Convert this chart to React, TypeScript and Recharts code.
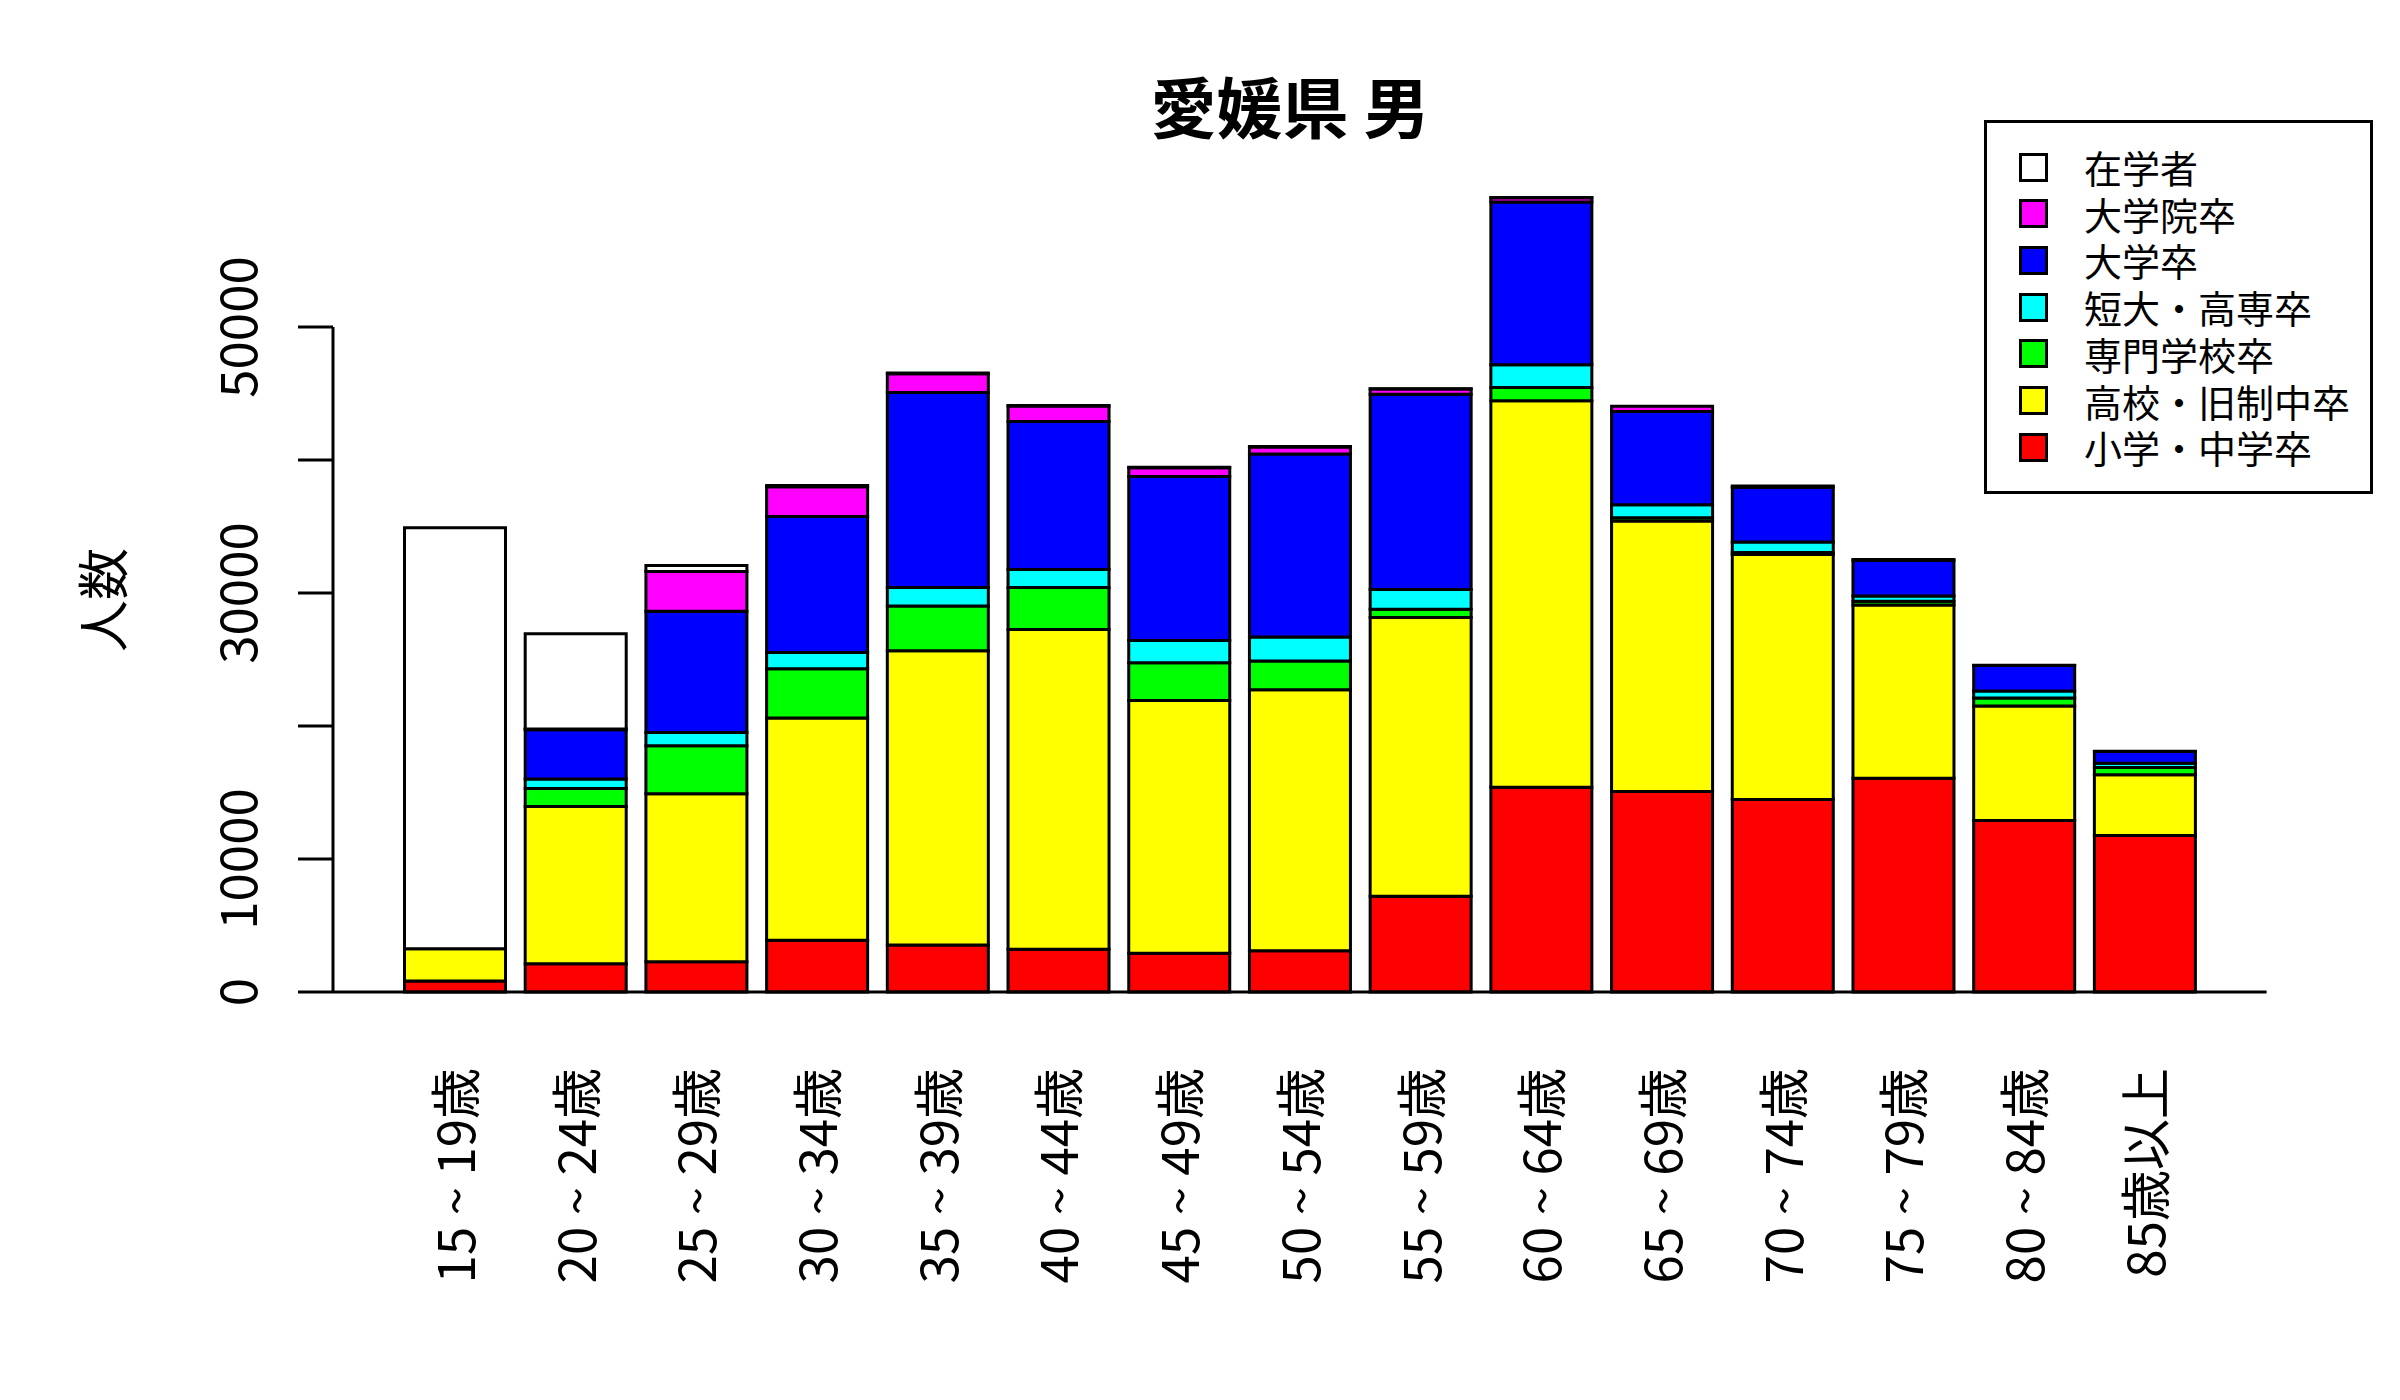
import React from "react";
import { BarChart, Bar, XAxis, YAxis } from "recharts";

const ageGroups = [
  "15 ~ 19歳", "20 ~ 24歳", "25 ~ 29歳", "30 ~ 34歳", "35 ~ 39歳",
  "40 ~ 44歳", "45 ~ 49歳", "50 ~ 54歳", "55 ~ 59歳", "60 ~ 64歳",
  "65 ~ 69歳", "70 ~ 74歳", "75 ~ 79歳", "80 ~ 84歳", "85歳以上"
];

// stacked from the bottom up
const elementary = [830, 2120, 2280, 3890, 3530, 3210, 2910, 3110, 7200, 15400, 15070, 14470, 16080, 12900, 11770];
const highSchool = [2430, 11820, 12620, 16710, 22120, 24040, 19010, 19620, 20960, 29050, 20340, 18430, 13010, 8600, 4570];
const vocational = [0, 1370, 3620, 3700, 3370, 3170, 2840, 2160, 610, 1010, 250, 150, 290, 600, 540];
const juniorCollege = [0, 700, 990, 1220, 1400, 1340, 1670, 1800, 1500, 1700, 970, 780, 400, 530, 320];
const university = [0, 3710, 9120, 10230, 14660, 11130, 12330, 13770, 14670, 12240, 7010, 4120, 2690, 1910, 890];
const graduate = [0, 50, 2980, 2230, 1400, 1170, 660, 520, 400, 320, 400, 100, 50, 30, 20];
const students = [31650, 7170, 460, 100, 60, 40, 30, 30, 20, 10, 0, 0, 0, 0, 0];

const seriesNames = ["小学・中学卒", "高校・旧制中卒", "専門学校卒", "短大・高専卒", "大学卒", "大学院卒", "在学者"];
const seriesColors = ["#ff0000", "#ffff00", "#00ff00", "#00ffff", "#0000ff", "#ff00ff", "#ffffff"];
const seriesValues = [elementary, highSchool, vocational, juniorCollege, university, graduate, students];

const yTicks = [0, 10000, 20000, 30000, 40000, 50000];
const yLabeled = [0, 10000, 30000, 50000];

const FONT = "'Noto Sans CJK JP', 'Noto Sans', sans-serif";
const Y_MAX = 62000;
const MARGIN = { top: 167.4, right: 133.4, bottom: 78, left: 233 };
const X_AXIS_H = 330;
const PLOT_H = 1400 - MARGIN.top - MARGIN.bottom - X_AXIS_H;

const rows = ageGroups.map((age, i) => {
  const row: any = { age };
  seriesValues.forEach((vals, k) => { row["s" + k] = vals[i]; });
  return row;
});

const XTick = ({ x, y, payload }: any) => (
  <text
    x={x + 20}
    y={y + 76}
    transform={`rotate(-90, ${x + 20}, ${y + 76})`}
    textAnchor="end"
    fontSize={51}
    fontFamily={FONT}
    fill="#000"
    style={{ whiteSpace: "pre" }}
  >
    {payload.value}
  </text>
);

const YTick = ({ x, y, payload }: any) => {
  const v = payload.value;
  return (
    <g>
      {v === 0 && (
        <line x1={x} x2={x} y1={y} y2={y - (50000 / Y_MAX) * PLOT_H} stroke="#000" strokeWidth={3} />
      )}
      <line x1={x - 35} x2={x} y1={y} y2={y} stroke="#000" strokeWidth={3} />
      {yLabeled.includes(v) && (
        <text
          x={x - 76}
          y={y}
          transform={`rotate(-90, ${x - 76}, ${y})`}
          textAnchor="middle"
          fontSize={51}
          fontFamily={FONT}
          fill="#000"
        >
          {v}
        </text>
      )}
    </g>
  );
};

export default function App() {
  return (
    <div style={{ position: "absolute", left: 0, top: 0, width: 2400, height: 1400, background: "#fff" }}>
      <BarChart width={2400} height={1400} data={rows} margin={MARGIN} barSize={101}>
        <XAxis
          dataKey="age"
          height={X_AXIS_H}
          padding={{ left: 61.5, right: 61.5 }}
          axisLine={{ stroke: "#000", strokeWidth: 3 }}
          tickLine={false}
          tickSize={0}
          tickMargin={0}
          interval={0}
          tick={<XTick />}
        />
        <YAxis
          width={100}
          domain={[0, Y_MAX]}
          ticks={yTicks}
          axisLine={false}
          tickLine={false}
          tickSize={0}
          tickMargin={0}
          tick={<YTick />}
        />
        {seriesNames.map((name, k) => (
          <Bar
            key={name}
            dataKey={"s" + k}
            name={name}
            stackId="a"
            fill={seriesColors[k]}
            stroke="#000"
            strokeWidth={3}
            isAnimationActive={false}
          />
        ))}
      </BarChart>

      <div style={{
        position: "absolute", left: 1290, top: 104, transform: "translate(-50%, -50%)",
        fontFamily: FONT, fontWeight: 700, fontSize: 66, whiteSpace: "nowrap", color: "#000"
      }}>
        愛媛県 男
      </div>

      <div style={{
        position: "absolute", left: 100, top: 600, transform: "translate(-50%, -50%) rotate(-90deg)",
        fontFamily: FONT, fontSize: 52, whiteSpace: "nowrap", color: "#000"
      }}>
        人数
      </div>

      <div style={{
        position: "absolute", left: 1984, top: 120, width: 389, height: 374, boxSizing: "border-box",
        border: "3px solid #000", background: "#fff", fontFamily: FONT, fontSize: 38, color: "#000"
      }}>
        {seriesNames.slice().reverse().map((name, i) => {
          const k = seriesNames.length - 1 - i;
          return (
            <div key={name} style={{
              position: "absolute", left: 32, top: 44 + i * 46.7 - 20, height: 40, display: "flex", alignItems: "center"
            }}>
              <div style={{
                width: 29, height: 29, boxSizing: "border-box", border: "3px solid #000", background: seriesColors[k]
              }} />
              <span style={{ marginLeft: 36, whiteSpace: "nowrap", lineHeight: 1 }}>{name}</span>
            </div>
          );
        })}
      </div>
    </div>
  );
}
